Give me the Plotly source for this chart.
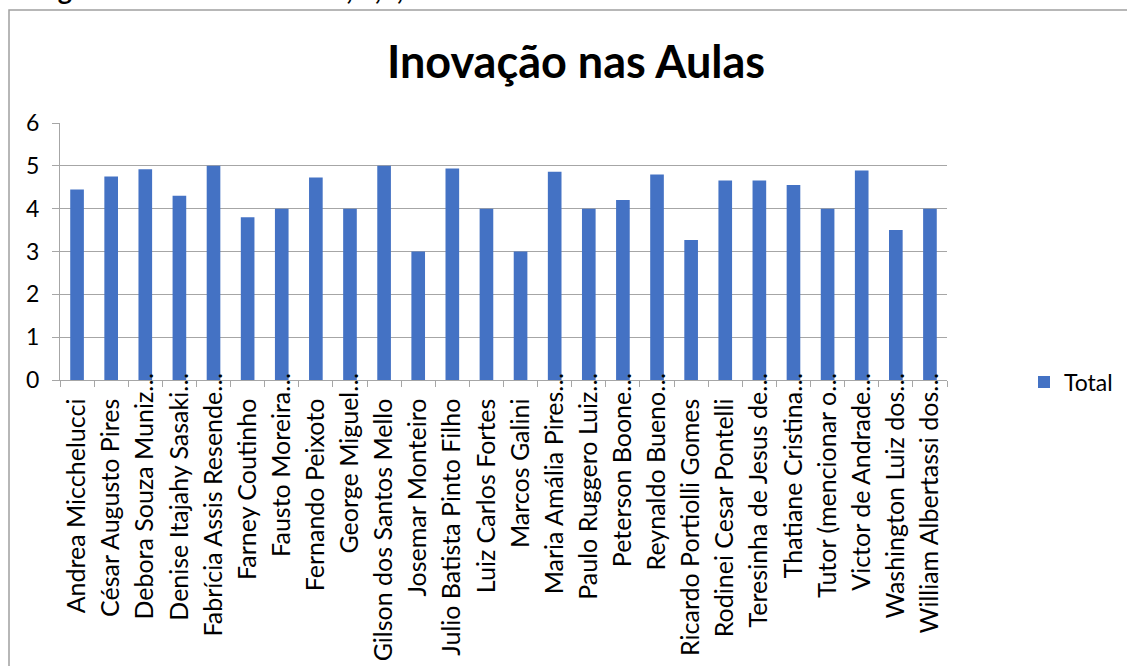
import plotly.graph_objects as go

categories = [
    "Andrea Micchelucci", "César Augusto Pires", "Debora Souza Muniz…",
    "Denise Itajahy Sasaki…", "Fabrícia Assis Resende…", "Farney Coutinho",
    "Fausto Moreira…", "Fernando Peixoto", "George Miguel…",
    "Gilson dos Santos Mello", "Josemar Monteiro", "Julio Batista Pinto Filho",
    "Luiz Carlos Fortes", "Marcos Galini", "Maria Amália Pires…",
    "Paulo Ruggero Luiz…", "Peterson Boone…", "Reynaldo Bueno…",
    "Ricardo Portiolli Gomes", "Rodinei Cesar Pontelli", "Teresinha de Jesus de…",
    "Thatiane Cristina…", "Tutor (mencionar o…", "Victor de Andrade…",
    "Washington Luiz dos…", "William Albertassi dos…",
]
totals = [4.45, 4.75, 4.92, 4.30, 5.0, 3.8, 4.0, 4.73, 4.0, 5.0, 3.0, 4.94, 4.0,
          3.0, 4.86, 4.0, 4.2, 4.8, 3.27, 4.66, 4.66, 4.55, 4.0, 4.89, 3.5, 4.0]
y_ticks = [0, 1, 2, 3, 4, 5, 6]

FONT = "Lato"
W, H = 1127, 666
L, R, T, B = 60, 180, 123, 286
pw, ph = W - L - R, H - T - B

def px_x(x):
    return (x - L) / pw

def px_y(y):
    return (H - B - y) / ph

# untruncated labels sit a little lower than the ellipsised ones
PAD = "\u00a0" * 4
tick_text = [c if c.endswith("…") else c + PAD for c in categories]

fig = go.Figure()
fig.add_trace(go.Bar(x=categories, y=totals, name="Total",
                     marker=dict(color="#4472C4", line=dict(width=0)),
                     showlegend=True))

fig.update_layout(
    width=W, height=H,
    margin=dict(l=L, r=R, t=T, b=B, autoexpand=False),
    paper_bgcolor="white", plot_bgcolor="white",
    bargap=0.6,
    font=dict(family=FONT, color="black"),
    title=dict(text="<b>Inovação nas Aulas</b>", x=576 / W, xanchor="center",
               y=1 - 62 / H, yanchor="middle",
               font=dict(family=FONT, size=45, color="black")),
    showlegend=True,
    legend=dict(x=px_x(1024), y=px_y(382), xanchor="left", yanchor="middle",
                font=dict(family=FONT, size=23, color="black"),
                itemwidth=30, bgcolor="rgba(0,0,0,0)"),
    xaxis=dict(type="category", tickangle=-90, tickson="boundaries",
               tickvals=categories, ticktext=tick_text,
               ticks="outside", ticklen=6, tickcolor="#a6a6a6",
               showline=True, linecolor="#a6a6a6", linewidth=1,
               showgrid=False, tickfont=dict(family=FONT, size=25),
               ticklabelstandoff=-18, automargin=False),
    yaxis=dict(range=[0, 6], tickvals=y_ticks, ticks="outside", ticklen=7,
               tickcolor="#a6a6a6", showline=True, linecolor="#a6a6a6",
               showgrid=True, gridcolor="#a6a6a6", gridwidth=1,
               zeroline=False, tickfont=dict(family=FONT, size=23),
               ticklabelstandoff=8, automargin=False),
)

# Outer chart border
fig.add_shape(type="rect", xref="paper", yref="paper",
              x0=px_x(9), x1=px_x(1140), y0=px_y(10), y1=px_y(700),
              line=dict(color="#a0a0a0", width=1.5), fillcolor="rgba(0,0,0,0)",
              layer="below")

# Clipped heading above the chart
fig.add_annotation(text="<b>Categorias de Análise: Eixo 1, 2,3, 4 e 5.</b>",
                   xref="paper", yref="paper", x=px_x(0), y=px_y(8),
                   xanchor="left", yanchor="bottom", showarrow=False,
                   font=dict(family=FONT, size=27, color="black"))

fig.write_html("out.html",
               config={"displayModeBar": False},
               post_script="document.body.style.margin='0';"
                           "document.body.style.overflow='hidden';")
